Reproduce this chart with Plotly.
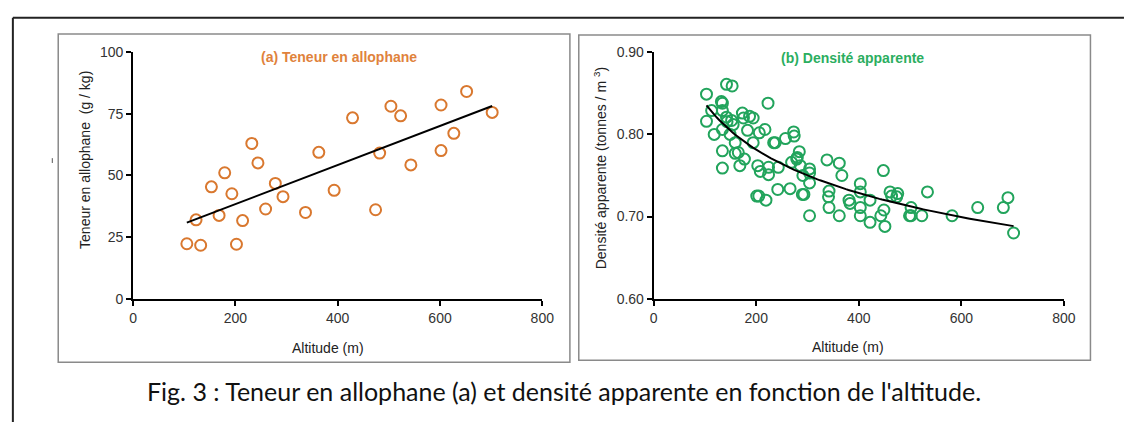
import numpy as np
import plotly.graph_objects as go

# ---------------- data ----------------
alt_a = [105, 123, 132, 153, 168, 179, 193, 202, 214, 232, 244, 259, 278, 293,
         337, 363, 393, 429, 474, 482, 504, 523, 543, 602, 602, 627, 652, 702]
allophane = [22.3, 32.0, 21.7, 45.4, 33.8, 51.1, 42.6, 22.1, 31.7, 63.0, 55.1, 36.4, 46.8, 41.4,
             35.0, 59.4, 44.0, 73.4, 36.1, 59.1, 78.1, 74.2, 54.3, 60.1, 78.6, 67.1, 84.1, 75.6]

alt_b = [103, 103, 113, 118, 132, 134, 134, 134, 134, 134, 142, 153, 142, 143, 152, 149, 155,
         159, 159, 165, 168, 177, 173, 175, 187, 194, 183, 194, 206, 217, 223, 203, 208, 224,
         224, 201, 205, 219, 234, 237, 243, 242, 257, 266, 273, 274, 269, 279, 284, 280, 286,
         291, 293, 290, 304, 304, 304, 304, 338, 342, 341, 342, 362, 367, 362, 381, 383, 403,
         403, 403, 403, 422, 422, 448, 449, 443, 451, 461, 464, 476, 474, 502, 499, 502, 523,
         534, 582, 632, 682, 691, 702]
densite = [0.849, 0.816, 0.829, 0.800, 0.840, 0.838, 0.829, 0.806, 0.780, 0.759, 0.861, 0.859,
           0.821, 0.8155, 0.817, 0.800, 0.812, 0.790, 0.777, 0.778, 0.762, 0.770, 0.826, 0.820,
           0.822, 0.820, 0.805, 0.790, 0.802, 0.806, 0.838, 0.762, 0.755, 0.760, 0.751, 0.725,
           0.725, 0.720, 0.790, 0.790, 0.760, 0.733, 0.795, 0.734, 0.803, 0.798, 0.766, 0.770,
           0.779, 0.772, 0.762, 0.750, 0.727, 0.727, 0.758, 0.753, 0.741, 0.701, 0.769, 0.731,
           0.724, 0.711, 0.765, 0.750, 0.701, 0.720, 0.716, 0.740, 0.730, 0.711, 0.701, 0.720,
           0.693, 0.756, 0.708, 0.701, 0.688, 0.730, 0.725, 0.728, 0.724, 0.711, 0.701, 0.701,
           0.701, 0.730, 0.701, 0.711, 0.711, 0.723, 0.680]

x_ticks = [0, 200, 400, 600, 800]
ya_ticks = [0, 25, 50, 75, 100]
yb_ticks = [0.60, 0.70, 0.80, 0.90]

title_a = "(a) Teneur en allophane"
title_b = "(b) Densité apparente"
xlab = "Altitude (m)"
ylab_a = "Teneur en allophane  (g / kg)"
ylab_b = "Densité apparente (tonnes / m <sup>3</sup>)"
caption = "Fig. 3 : Teneur en allophane (a) et densité apparente en fonction de l'altitude."

ORANGE = "#D9782F"
ORANGE_T = "#E0823C"
GREEN = "#22A45C"
GREEN_T = "#2BAE5F"

# ---------------- layout helpers ----------------
W, H = 1134, 428
def px(x):
    return x / W
def py(y):
    return 1 - y / H

# trend lines (fits from the data)
xa = np.array(alt_a, float); ya = np.array(allophane, float)
ka, ba = np.polyfit(xa, ya, 1)
ta = np.linspace(xa.min(), xa.max(), 50)

xb = np.array(alt_b, float); yb = np.array(densite, float)
pb, lb = np.polyfit(np.log(xb), np.log(yb), 1)
tb = np.linspace(xb.min(), xb.max(), 120)

fig = go.Figure()
fig.add_trace(go.Scatter(x=alt_a, y=allophane, mode="markers", xaxis="x", yaxis="y",
                         marker=dict(symbol="circle-open", size=11, color=ORANGE,
                                     line=dict(width=2, color=ORANGE)),
                         showlegend=False))
fig.add_trace(go.Scatter(x=ta, y=ka * ta + ba, mode="lines", xaxis="x", yaxis="y",
                         line=dict(color="black", width=2), showlegend=False))
fig.add_trace(go.Scatter(x=alt_b, y=densite, mode="markers", xaxis="x2", yaxis="y2",
                         marker=dict(symbol="circle-open", size=11, color=GREEN,
                                     line=dict(width=2, color=GREEN)),
                         showlegend=False))
fig.add_trace(go.Scatter(x=tb, y=np.exp(lb) * tb ** pb, mode="lines", xaxis="x2", yaxis="y2",
                         line=dict(color="black", width=2), showlegend=False))

tickfont = dict(family="Liberation Sans, Arial", size=14, color="#333")
axcommon = dict(showgrid=False, zeroline=False, showline=True, linecolor="black",
                linewidth=2, ticks="outside", ticklen=5, tickwidth=2, tickcolor="black",
                tickfont=tickfont)

fig.update_layout(
    width=W, height=H, margin=dict(l=0, r=0, t=0, b=0),
    paper_bgcolor="white", plot_bgcolor="white",
    xaxis=dict(domain=[px(131), px(546)], range=[0, 800], tickvals=x_ticks,
               anchor="y", **axcommon),
    yaxis=dict(domain=[py(302), py(46)], range=[0, 100], tickvals=ya_ticks,
               anchor="x", **axcommon),
    xaxis2=dict(domain=[px(659), px(1075)], range=[0, 800], tickvals=x_ticks,
                anchor="y2", **axcommon),
    yaxis2=dict(domain=[py(302), py(46)], range=[0.6, 0.9], tickvals=yb_ticks,
                tickformat=".2f", anchor="x2", **axcommon),
)

shapes = [
    # outer frame (left and top edges visible)
    dict(type="line", xref="paper", yref="paper", x0=px(9), x1=px(9), y0=py(10), y1=py(430),
         line=dict(color="#222", width=2)),
    dict(type="line", xref="paper", yref="paper", x0=px(9), x1=px(1136), y0=py(10), y1=py(10),
         line=dict(color="#222", width=2)),
    # panel boxes
    dict(type="rect", xref="paper", yref="paper", x0=px(55), x1=px(574), y0=py(368), y1=py(27),
         line=dict(color="#8a8a8a", width=1.5), layer="below"),
    dict(type="rect", xref="paper", yref="paper", x0=px(583), x1=px(1102), y0=py(366), y1=py(28),
         line=dict(color="#8a8a8a", width=1.5), layer="below"),
    # small stray dash left of panel (a)
    dict(type="line", xref="paper", yref="paper", x0=px(49), x1=px(49), y0=py(156), y1=py(161),
         line=dict(color="#555", width=1)),
]
fig.update_layout(shapes=shapes)

def ann(text, x, y, size, color="#222", bold=False, angle=0, family="Liberation Sans, Arial"):
    return dict(text=("<b>%s</b>" % text) if bold else text, x=px(x), y=py(y),
                xref="paper", yref="paper", showarrow=False, textangle=angle,
                xanchor="center", yanchor="middle",
                font=dict(family=family, size=size, color=color))

fig.update_layout(annotations=[
    ann(title_a, 340, 51, 14, ORANGE_T, bold=True),
    ann(title_b, 861, 52, 14, GREEN_T, bold=True),
    ann(xlab, 329, 353, 14),
    ann(xlab, 856, 352, 14),
    ann(ylab_a, 82, 158, 14, angle=-90),
    ann(ylab_b, 604, 166, 14, angle=-90),
    ann(caption, 568, 398, 25, "#111", family="Lato, Noto Sans"),
])

fig.write_html("out.html", config={"displayModeBar": False},
               post_script="document.body.style.margin='0';document.body.style.overflow='hidden';")
